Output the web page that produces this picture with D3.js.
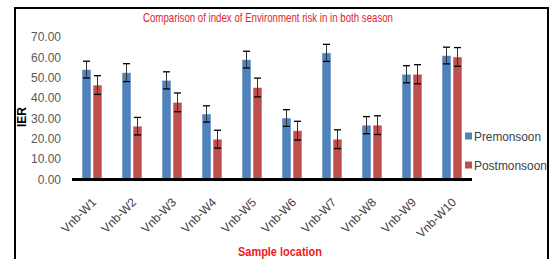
<!DOCTYPE html>
<html><head><meta charset="utf-8">
<script src="https://cdn.jsdelivr.net/npm/d3@7"></script>
<style>body{margin:0;background:#fff;}svg{display:block;}</style>
</head><body>
<svg id="c" width="553" height="259"></svg>
<script>
const categories = ["Vnb-W1","Vnb-W2","Vnb-W3","Vnb-W4","Vnb-W5","Vnb-W6","Vnb-W7","Vnb-W8","Vnb-W9","Vnb-W10"];
const seriesNames = ["Premonsoon","Postmonsoon"];
const premonsoon = [54.0, 52.5, 48.7, 32.2, 58.9, 30.2, 62.2, 26.7, 51.7, 60.9];
const postmonsoon = [46.4, 26.2, 37.9, 19.8, 45.2, 24.0, 19.8, 26.7, 51.7, 60.2];
const premonsoonErr = [4.1, 4.4, 4.2, 4.0, 4.1, 4.1, 4.2, 4.2, 4.2, 4.1];
const postmonsoonErr = [4.6, 4.3, 4.6, 4.4, 4.6, 4.6, 4.6, 4.6, 4.7, 4.6];
const yTicks = [0,10,20,30,40,50,60,70];
const colors = ["#4F81BD","#C0504D"];
const titleText = "Comparison of index of Environment risk in in both season";
const xTitle = "Sample location";
const yTitle = "IER";

const svg = d3.select("#c");
// outer border
svg.append("rect").attr("x",15).attr("y",8).attr("width",533).attr("height",260)
  .attr("fill","none").attr("stroke","#000").attr("stroke-width",2);

const x0 = d3.scaleBand().domain(categories).range([72,472]);
const x1 = d3.scaleBand().domain(seriesNames).range([-10,10]).paddingInner(2/11);
const y = d3.scaleLinear().domain([0,70]).range([179.5,37]);

const data = categories.map((c,i)=>({cat:c, vals:[
  {s:seriesNames[0], v:premonsoon[i], e:premonsoonErr[i], col:colors[0]},
  {s:seriesNames[1], v:postmonsoon[i], e:postmonsoonErr[i], col:colors[1]}]}));

// y tick labels
svg.append("g").selectAll("text").data(yTicks).join("text")
  .attr("x",61).attr("y",d=>y(d)).attr("dy","0.35em").attr("text-anchor","end")
  .attr("font-family","Liberation Sans, Arial, sans-serif").attr("font-size",12)
  .attr("fill","#595959").text(d=>d.toFixed(2));

const g = svg.append("g").selectAll("g").data(data).join("g")
  .attr("transform",d=>`translate(${x0(d.cat)+x0.bandwidth()/2},0)`);
g.selectAll("rect").data(d=>d.vals).join("rect")
  .attr("x",d=>x1(d.s)).attr("width",x1.bandwidth())
  .attr("y",d=>y(d.v)).attr("height",d=>y(0)-y(d.v))
  .attr("fill",d=>d.col).attr("stroke","rgba(255,255,255,0.55)").attr("stroke-width",1);
// error bars
const eb = g.selectAll("g.err").data(d=>d.vals).join("g").attr("class","err");
eb.append("line").attr("x1",d=>x1(d.s)+x1.bandwidth()/2).attr("x2",d=>x1(d.s)+x1.bandwidth()/2)
  .attr("y1",d=>y(d.v+d.e)).attr("y2",d=>y(d.v-d.e)).attr("stroke","#333").attr("stroke-width",1);
[1,-1].forEach(sg=>{
  eb.append("line").attr("x1",d=>x1(d.s)+x1.bandwidth()/2-3.5).attr("x2",d=>x1(d.s)+x1.bandwidth()/2+3.5)
    .attr("y1",d=>y(d.v+sg*d.e)).attr("y2",d=>y(d.v+sg*d.e)).attr("stroke","#000").attr("stroke-width",1.3);
});

// x axis line
svg.append("line").attr("x1",72).attr("x2",472).attr("y1",y(0)).attr("y2",y(0))
  .attr("stroke","#000").attr("stroke-width",3);

// x tick labels
svg.append("g").selectAll("text").data(categories).join("text")
  .attr("transform",d=>`translate(${x0(d)+x0.bandwidth()/2+5},203) rotate(-45)`)
  .attr("text-anchor","end").attr("font-family","Liberation Sans, Arial, sans-serif")
  .attr("font-size",12).attr("fill","#404040").text(d=>d);

// title
svg.append("text").attr("x",143).attr("y",22).attr("textLength",250).attr("lengthAdjust","spacingAndGlyphs")
  .attr("font-family","Liberation Sans, Arial, sans-serif").attr("font-size",13)
  .attr("fill","#E0262E").text(titleText);

// x title
svg.append("text").attr("x",238).attr("y",256).attr("textLength",84).attr("lengthAdjust","spacingAndGlyphs")
  .attr("font-family","Liberation Sans, Arial, sans-serif").attr("font-size",13).attr("font-weight","bold")
  .attr("fill","#F01818").text(xTitle);

// y title
svg.append("text").attr("transform","translate(25.5,117) rotate(-90)").attr("text-anchor","middle")
  .attr("font-family","Liberation Sans, Arial, sans-serif").attr("font-size",12).attr("font-weight","bold")
  .attr("fill","#000").text(yTitle);

// legend
const legY = [136, 165];
const legW = [67, 73];
const lg = svg.append("g").selectAll("g").data(seriesNames).join("g")
  .attr("transform",(d,i)=>`translate(465,${legY[i]})`);
lg.append("rect").attr("x",0).attr("y",-3.5).attr("width",7).attr("height",7).attr("fill",(d,i)=>colors[i]);
lg.append("text").attr("x",9).attr("y",0).attr("dy","0.35em")
  .attr("textLength",(d,i)=>legW[i]).attr("lengthAdjust","spacingAndGlyphs")
  .attr("font-family","Liberation Sans, Arial, sans-serif").attr("font-size",13)
  .attr("fill","#404040").text(d=>d);
</script>
</body></html>
